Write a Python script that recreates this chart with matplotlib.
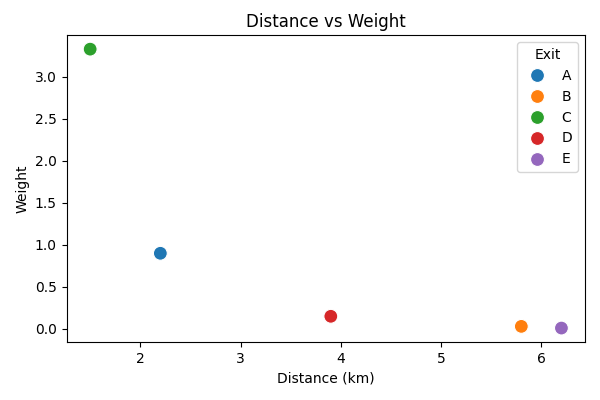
import matplotlib
matplotlib.use("Agg")
import matplotlib.pyplot as plt
import seaborn as sns
import pandas as pd

# values
exits = ["A", "B", "C", "D", "E"]
distance_km = [2.2, 5.8, 1.5, 3.9, 6.2]
weight = [0.90, 0.03, 3.33, 0.15, 0.01]

df = pd.DataFrame({"Distance (km)": distance_km, "Weight": weight, "Exit": exits})

fig, ax = plt.subplots(figsize=(6, 4), dpi=100)
sns.scatterplot(data=df, x="Distance (km)", y="Weight", hue="Exit", s=100, ax=ax)

ax.set_title("Distance vs Weight")
ax.legend(title="Exit", loc="upper right")
fig.subplots_adjust(left=0.111, right=0.975, bottom=0.145, top=0.912)
plt.savefig("out.png")
